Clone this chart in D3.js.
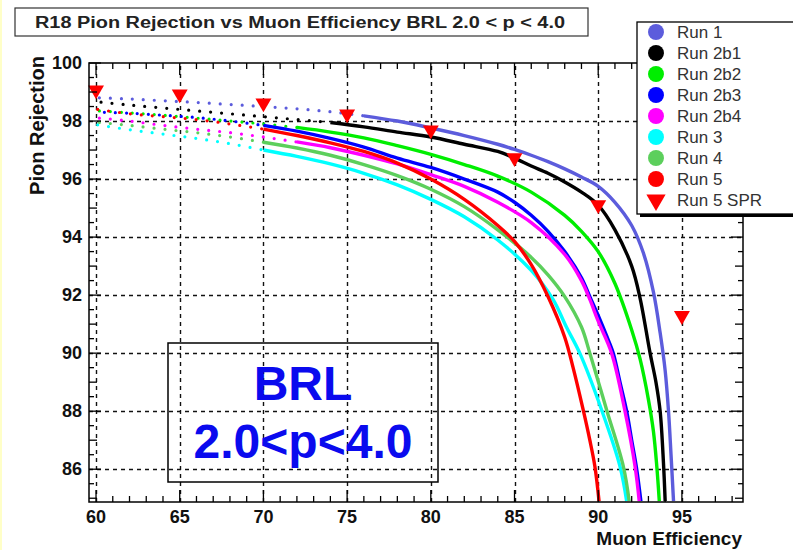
<!DOCTYPE html>
<html>
<head>
<meta charset="utf-8">
<script src="https://cdn.jsdelivr.net/npm/d3@7"></script>
<style>
  body { margin: 0; background: #fff; }
  text { font-family: "Liberation Sans", Arial, sans-serif; }
</style>
</head>
<body>
<div id="chart"></div>
<script>
// series names, in legend order
const runNames = ['Run 1', 'Run 2b1', 'Run 2b2', 'Run 2b3', 'Run 2b4', 'Run 3', 'Run 4', 'Run 5'];

// muon efficiency (%) / pion rejection (%)
const effRun1 = [60.2, 62, 64, 66, 68, 70, 72, 74, 76, 78, 80, 82, 84, 85, 86, 87, 88, 89, 90, 91, 92, 92.7, 93.3, 93.7, 94.0, 94.2, 94.35, 94.5];
const rejRun1 = [98.8, 98.76, 98.7, 98.64, 98.57, 98.5, 98.42, 98.32, 98.18, 98.0, 97.76, 97.5, 97.2, 97.02, 96.82, 96.6, 96.35, 96.07, 95.75, 95.2, 94.4, 93.45, 92.1, 90.7, 89.4, 88.0, 86.5, 84.9];

const effRun2b1 = [60.3, 62, 64, 66, 68, 70, 72, 74, 76, 78, 80, 82, 84, 85, 86, 87, 88, 89, 90, 91, 92, 92.5, 93.1, 93.45, 93.7, 93.9, 94.0];
const rejRun2b1 = [98.65, 98.55, 98.45, 98.35, 98.25, 98.15, 98.05, 97.95, 97.8, 97.62, 97.45, 97.2, 96.95, 96.72, 96.45, 96.2, 95.9, 95.55, 95.1, 94.25, 93.0, 91.9, 90.0, 89.0, 88.0, 86.2, 84.9];

const effRun2b2 = [60.2, 62, 64, 66, 68, 70, 72, 74, 76, 78, 80, 82, 84, 86, 88, 89, 90, 91, 92, 92.5, 93.0, 93.3, 93.5, 93.65];
const rejRun2b2 = [98.35, 98.28, 98.2, 98.1, 98.0, 97.9, 97.78, 97.62, 97.42, 97.15, 96.85, 96.5, 96.1, 95.55, 94.75, 94.2, 93.5, 92.4, 90.8, 89.8, 88.4, 87.3, 86.1, 84.9];

const effRun2b3 = [60.5, 62, 64, 66, 68, 70, 72, 74, 76, 78, 80, 82, 84, 85, 86, 87, 88, 89, 89.5, 90, 90.5, 90.9, 91.3, 91.7, 92.0, 92.3, 92.55];
const rejRun2b3 = [98.3, 98.27, 98.2, 98.12, 98.0, 97.85, 97.65, 97.4, 97.1, 96.72, 96.4, 96.0, 95.55, 95.2, 94.75, 94.2, 93.5, 92.6, 91.95, 91.3, 90.6, 90.0, 89.0, 88.0, 87.0, 86.0, 84.9];

const effRun2b4 = [60.2, 62, 64, 66, 68, 70, 72, 74, 76, 78, 80, 82, 84, 86, 88, 89, 89.5, 90, 90.8, 91.6, 92.2, 92.45];
const rejRun2b4 = [98.1, 98.0, 97.85, 97.72, 97.6, 97.45, 97.28, 97.08, 96.82, 96.52, 96.15, 95.75, 95.2, 94.5, 93.4, 92.5, 91.85, 91.1, 90.0, 88.0, 86.1, 84.9];

const effRun3 = [60.1, 62, 64, 66, 68, 70, 72, 74, 76, 78, 80, 82, 84, 86, 87.3, 88.1, 88.9, 90.2, 91.3, 91.7];
const rejRun3 = [97.87, 97.7, 97.55, 97.4, 97.22, 97.0, 96.78, 96.52, 96.2, 95.8, 95.3, 94.7, 93.9, 92.85, 91.85, 90.9, 90.0, 88.05, 86.1, 84.9];

const effRun4 = [60.2, 62, 64, 66, 68, 70, 72, 74, 76, 78, 80, 82, 84, 86, 87, 88, 89, 89.5, 90.5, 91.5, 91.85];
const rejRun4 = [97.95, 97.85, 97.72, 97.6, 97.45, 97.27, 97.07, 96.82, 96.5, 96.12, 95.65, 95.05, 94.25, 93.3, 92.7, 91.95, 90.9, 90.0, 88.05, 86.1, 84.9];

const effRun5 = [60.1, 62, 64, 66, 68, 70, 72, 74, 76, 78, 80, 82, 84, 85, 86, 87, 88, 88.5, 89.1, 89.5, 89.8, 90.05];
const rejRun5 = [98.4, 98.25, 98.15, 98.05, 97.9, 97.72, 97.5, 97.25, 96.95, 96.55, 96.0, 95.3, 94.4, 93.85, 93.05, 91.95, 90.55, 89.5, 88.05, 87.0, 86.1, 84.9];

// Run 5 SPR markers
const effSPR = [60, 65, 70, 75, 80, 85, 90, 95];
const rejSPR = [99.07, 98.93, 98.62, 98.24, 97.69, 96.73, 95.11, 91.29];

// axis labels
const xTickLabels = [60, 65, 70, 75, 80, 85, 90, 95];
const yTickLabels = [86, 88, 90, 92, 94, 96, 98, 100];

const effAll = [effRun1, effRun2b1, effRun2b2, effRun2b3, effRun2b4, effRun3, effRun4, effRun5];
const rejAll = [rejRun1, rejRun2b1, rejRun2b2, rejRun2b3, rejRun2b4, rejRun3, rejRun4, rejRun5];

const colors = ['#5c5cdc', '#000000', '#00ee00', '#0000ff', '#ff00ff', '#00ffff', '#5ccf5c', '#ff0000'];
const solidFrom = [76, 74, 72, 70, 72, 70, 70, 70]; // points are sparse (dotted) below this

const width = 793, height = 550;
const svg = d3.select('#chart').append('svg')
  .attr('width', width)
  .attr('height', height);

svg.append('rect').attr('width', width).attr('height', height).style('fill', '#fff');
svg.append('rect').attr('width', 2).attr('height', height).style('fill', '#ffffc8');

const x = d3.scaleLinear().domain([59.58, 98.65]).range([89, 743]);
const y = d3.scaleLinear().domain([84.87, 100]).range([502, 63]);
const [x0, x1] = x.range();
const [y0, y1] = y.range();

// title box
svg.append('rect')
  .attr('x', 15).attr('y', 8).attr('width', 573).attr('height', 28)
  .style('fill', '#fff').style('stroke', '#333').style('stroke-width', 1.2);
svg.append('text')
  .attr('x', 35).attr('y', 28)
  .attr('font-size', 16).attr('font-weight', 'bold').style('fill', '#222')
  .attr('textLength', 530).attr('lengthAdjust', 'spacingAndGlyphs')
  .text('R18 Pion Rejection vs Muon Efficiency BRL 2.0 < p < 4.0');

// dashed grid
const grid = svg.append('g');
grid.selectAll('path.gx').data(xTickLabels).enter().append('path')
  .attr('class', 'gx')
  .attr('d', d => `M${Math.round(x(d)) + 0.5},${y0}V${y1}`);
grid.selectAll('path.gy').data(yTickLabels.filter(d => d < 100)).enter().append('path')
  .attr('class', 'gy')
  .attr('d', d => `M${x0},${Math.round(y(d)) + 0.5}H${x1}`);
grid.selectAll('path')
  .style('stroke', '#111').style('stroke-width', 1.4)
  .style('stroke-dasharray', '4,4').style('fill', 'none');

// BRL label box
svg.append('rect')
  .attr('x', 168).attr('y', 343).attr('width', 270).attr('height', 139)
  .style('fill', 'none').style('stroke', '#000').style('stroke-width', 1.5);
svg.append('text').attr('x', 303).attr('y', 400).attr('text-anchor', 'middle')
  .attr('font-size', 48).attr('font-weight', 'bold').style('fill', '#0a0aee').text('BRL');
svg.append('text').attr('x', 303).attr('y', 458).attr('text-anchor', 'middle')
  .attr('font-size', 48).attr('font-weight', 'bold').style('fill', '#0a0aee').text('2.0<p<4.0');

// curves
const line = d3.line()
  .x(d => x(d[0]))
  .y(d => y(d[1]))
  .curve(d3.curveCatmullRom.alpha(0.5));

const plot = svg.append('g');
runNames.forEach((name, i) => {
  const pts = effAll[i].map((e, j) => [e, rejAll[i][j]]);
  const sparse = pts.filter(p => p[0] <= solidFrom[i]);
  const dense = pts.filter(p => p[0] >= solidFrom[i]);
  plot.append('path')
    .attr('d', line(sparse))
    .style('fill', 'none')
    .style('stroke', colors[i])
    .style('stroke-width', 3.2)
    .style('stroke-linecap', 'round')
    .style('stroke-dasharray', '0,11');
  plot.append('path')
    .attr('d', line(dense))
    .style('fill', 'none')
    .style('stroke', colors[i])
    .style('stroke-width', 3.4);
});

// SPR triangles
const tri = d3.symbol().type(d3.symbolTriangle).size(110);
plot.selectAll('.spr').data(effSPR).enter().append('path')
  .attr('d', tri)
  .attr('transform', (d, i) => `translate(${x(d)},${y(rejSPR[i])}) rotate(180)`)
  .style('fill', '#ff0000');

// frame and inward ticks
const xMinor = d3.range(60, 99, 1);
const yMinor = d3.range(85, 100.01, 0.5);

function tickLen(v, major, mid) {
  if (major.includes(v)) return 12;
  if (mid && Number.isInteger(v)) return 8;
  return 5;
}

const ticks = svg.append('g');
const xt = xMinor.map(v => ({ v, len: xTickLabels.includes(v) ? 12 : 6 }));
const yt = yMinor.map(v => ({ v, len: tickLen(v, yTickLabels, true) }));
ticks.selectAll('path.xb').data(xt).enter().append('path')
  .attr('d', d => `M${x(d.v)},${y0}v${-d.len}`);
ticks.selectAll('path.xt').data(xt).enter().append('path')
  .attr('d', d => `M${x(d.v)},${y1}v${d.len}`);
ticks.selectAll('path.yl').data(yt).enter().append('path')
  .attr('d', d => `M${x0},${y(d.v)}h${d.len}`);
ticks.selectAll('path.yr').data(yt).enter().append('path')
  .attr('d', d => `M${x1},${y(d.v)}h${-d.len}`);
ticks.selectAll('path').style('stroke', '#000').style('stroke-width', 1.3).style('fill', 'none');

svg.append('rect')
  .attr('x', x0).attr('y', y1).attr('width', x1 - x0).attr('height', y0 - y1)
  .style('fill', 'none').style('stroke', '#000').style('stroke-width', 1.5);

// tick labels
svg.append('g').selectAll('text').data(xTickLabels).enter().append('text')
  .attr('x', d => x(d)).attr('y', 523)
  .attr('text-anchor', 'middle')
  .attr('font-size', 18).attr('font-weight', 'bold').style('fill', '#111')
  .text(d => d);
svg.append('g').selectAll('text').data(yTickLabels).enter().append('text')
  .attr('x', 82).attr('y', d => y(d) + 6)
  .attr('text-anchor', 'end')
  .attr('font-size', 18).attr('font-weight', 'bold').style('fill', '#111')
  .text(d => d);

// axis titles
svg.append('text')
  .attr('x', 742).attr('y', 545).attr('text-anchor', 'end')
  .attr('font-size', 19).attr('font-weight', 'bold').style('fill', '#111')
  .text('Muon Efficiency');
svg.append('text')
  .attr('transform', 'translate(44,56) rotate(-90)')
  .attr('text-anchor', 'end')
  .attr('font-size', 20).attr('font-weight', 'bold').style('fill', '#111')
  .text('Pion Rejection');

// legend
const legend = svg.append('g');
legend.append('rect')
  .attr('x', 640).attr('y', 25).attr('width', 170).attr('height', 192)
  .style('fill', '#000');
legend.append('rect')
  .attr('x', 637).attr('y', 22).attr('width', 170).attr('height', 192)
  .style('fill', '#fff').style('stroke', '#000').style('stroke-width', 1.3);

const legendNames = runNames.concat(['Run 5 SPR']);
const legendColors = colors.concat(['#ff0000']);
const ly = d3.scalePoint().domain(legendNames).range([32, 200]);

legend.selectAll('.lm').data(legendNames).enter().append('path')
  .attr('d', (d, i) => (i < runNames.length ? d3.symbol().type(d3.symbolCircle).size(200)() : d3.symbol().type(d3.symbolTriangle).size(160)()))
  .attr('transform', (d, i) => `translate(656,${ly(d)})` + (i < runNames.length ? '' : ' rotate(180)'))
  .style('fill', (d, i) => legendColors[i]);
legend.selectAll('.lt').data(legendNames).enter().append('text')
  .attr('x', 677).attr('y', d => ly(d) + 6)
  .attr('font-size', 17).style('fill', '#333')
  .text(d => d);
</script>
</body>
</html>
